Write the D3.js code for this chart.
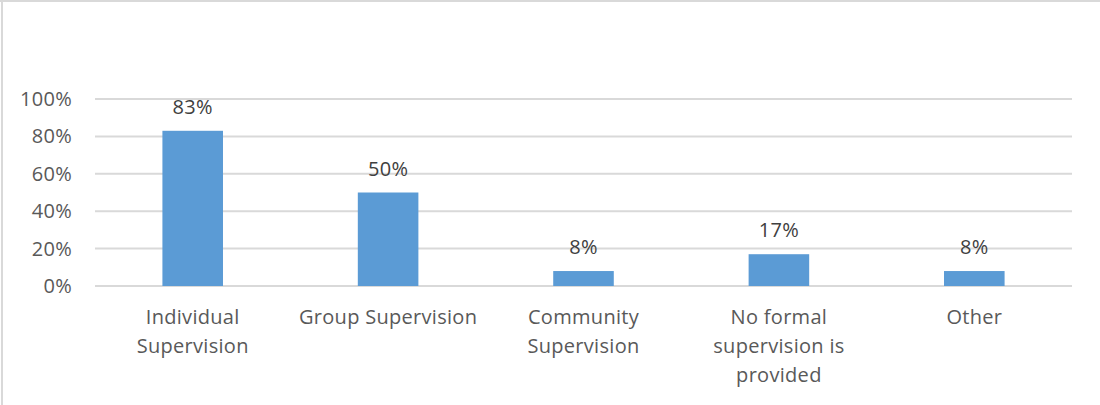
<!DOCTYPE html>
<html>
<head>
<meta charset="utf-8">
<script src="https://cdn.jsdelivr.net/npm/d3@7"></script>
<style>
  body { margin: 0; background: #fff; }
  svg { display: block; font-family: "Open Sans", "Noto Sans", sans-serif; }
  text { letter-spacing: 0.3px; }
</style>
</head>
<body>
<div id="chart"></div>
<script>
// data
const categories = [
  ["Individual", "Supervision"],
  ["Group Supervision"],
  ["Community", "Supervision"],
  ["No formal", "supervision is", "provided"],
  ["Other"]
];
const values = [0.83, 0.50, 0.08, 0.17, 0.08];
const yTicks = [0, 0.2, 0.4, 0.6, 0.8, 1.0];

const W = 1100, H = 405;
const margin = { top: 99, right: 28, bottom: 119, left: 95 },
    width = W - margin.left - margin.right,
    height = H - margin.top - margin.bottom;

const root = d3.select("#chart").append("svg")
    .attr("width", W)
    .attr("height", H);

// outer frame (top + left visible)
root.append("line").attr("x1", 0).attr("x2", W).attr("y1", 1).attr("y2", 1)
    .attr("stroke", "#d9d9d9").attr("stroke-width", 2);
root.append("line").attr("x1", 2).attr("x2", 2).attr("y1", 0).attr("y2", H)
    .attr("stroke", "#d9d9d9").attr("stroke-width", 2);

const svg = root.append("g")
    .attr("transform", `translate(${margin.left},${margin.top})`);

const idx = categories.map((d, i) => i);
const x = d3.scaleBand()
    .domain(idx)
    .range([0, width])
    .paddingInner(0.69)
    .paddingOuter(0.345);

const y = d3.scaleLinear()
    .domain([0, 1])
    .range([height, 0]);

// gridlines
svg.append("g")
    .selectAll("line")
    .data(yTicks)
    .join("line")
      .attr("x1", 0)
      .attr("x2", width)
      .attr("y1", d => y(d))
      .attr("y2", d => y(d))
      .attr("stroke", "#d9d9d9")
      .attr("stroke-width", 2);

// y axis labels
const yAxis = svg.append("g")
    .call(d3.axisLeft(y).tickValues(yTicks).tickFormat(d3.format(".0%")).tickSize(0).tickPadding(23));
yAxis.select(".domain").remove();
yAxis.selectAll("text")
    .attr("fill", "#595959")
    .style("font-size", "20px")
    .style("font-family", "'Open Sans', sans-serif");

// bars
svg.selectAll(".bar")
  .data(values)
  .join("rect")
    .attr("class", "bar")
    .attr("x", (d, i) => x(i))
    .attr("y", d => y(d))
    .attr("width", x.bandwidth())
    .attr("height", d => y(0) - y(d))
    .attr("fill", "#5b9bd5");

// value labels
svg.selectAll(".val")
  .data(values)
  .join("text")
    .attr("class", "val")
    .attr("x", (d, i) => x(i) + x.bandwidth() / 2)
    .attr("y", d => y(d) - 17)
    .attr("text-anchor", "middle")
    .attr("fill", "#404040")
    .style("font-size", "20px")
    .text(d => d3.format(".0%")(d));

// category labels
const cat = svg.selectAll(".cat")
  .data(categories)
  .join("text")
    .attr("class", "cat")
    .attr("text-anchor", "middle")
    .attr("fill", "#595959")
    .style("font-size", "20px")
    .attr("transform", (d, i) => `translate(${x(i) + x.bandwidth() / 2},${height + 38})`);

cat.selectAll("tspan")
  .data(d => d)
  .join("tspan")
    .attr("x", 0)
    .attr("dy", (d, i) => i === 0 ? 0 : 29)
    .text(d => d);
</script>
</body>
</html>
